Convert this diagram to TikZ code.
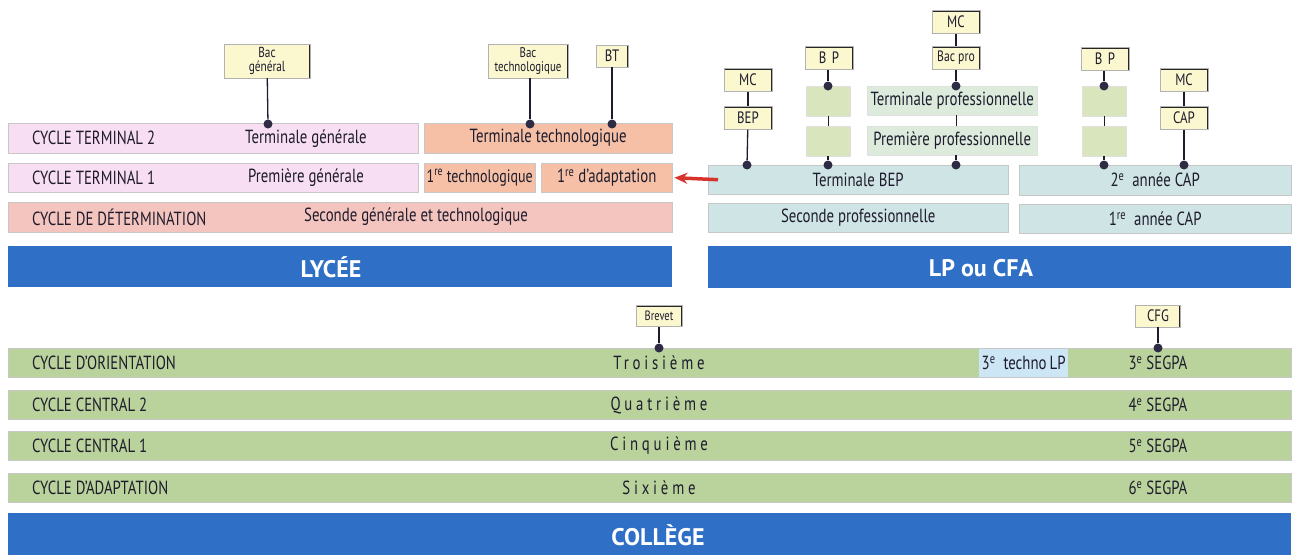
\documentclass[tikz,border=0pt]{standalone}
\usepackage{fontspec}
\setmainfont{PT Sans}[FakeStretch=0.78]
\newfontfamily\bandfont{PT Sans}
\usetikzlibrary{arrows.meta}

\definecolor{ink}{HTML}{1E1C2C}
\definecolor{pinkgen}{HTML}{F8DEF3}
\definecolor{orangetech}{HTML}{F5C0A6}
\definecolor{pinkdet}{HTML}{F4C4BF}
\definecolor{bandblue}{HTML}{2F6FC6}
\definecolor{lpcyan}{HTML}{CFE4E5}
\definecolor{colgreen}{HTML}{BAD39C}
\definecolor{boxgreen}{HTML}{D9E6BD}
\definecolor{progreen}{HTML}{DDEBDD}
\definecolor{diplyellow}{HTML}{FBF7CF}
\definecolor{technoblue}{HTML}{CCE6F5}
\definecolor{dotblue}{HTML}{2E2B45}
\definecolor{arrowred}{HTML}{D8322C}

\begin{document}
\begin{tikzpicture}[x=1pt,y=-1pt,
  bar/.style={draw=black!22,inner sep=0pt,anchor=north west,
    font=\fontsize{19}{21}\selectfont,text=ink},
  band/.style={fill=bandblue,inner sep=0pt,anchor=north west},
  bandtxt/.style={text=white,inner sep=0pt,font=\bandfont\bfseries\fontsize{24}{26}\selectfont},
  txt/.style={font=\fontsize{19}{21}\selectfont,text=ink,inner sep=0pt},
  spaced/.style={font=\addfontfeature{LetterSpace=20}\fontsize{19}{21}\selectfont},
  diplo/.style={fill=diplyellow,draw=black!30,inner sep=1pt,
    minimum width=48pt,minimum height=23pt,align=center,text=ink,
    font=\fontsize{16.5}{16}\selectfont,
    path picture={\draw[black!85,line width=2.4pt]
      (path picture bounding box.north west) -- (path picture bounding box.north east)
      -- (path picture bounding box.south east);}},
  gbox/.style={fill=boxgreen,draw=black!12,minimum width=44pt,minimum height=30pt,inner sep=0pt},
  dot/.style={circle,fill=dotblue,inner sep=0pt,minimum size=9pt},
  link/.style={draw=ink,line width=1.3pt}
]
  \useasboundingbox (0,0) rectangle (1303,557);

  % lycee
  \node[bar,fill=pinkgen,minimum width=410pt,minimum height=30pt] (tgen) at (8,123) {};
  \node[bar,fill=orangetech,minimum width=248pt,minimum height=30pt] (ttech) at (424,123) {Terminale technologique};
  \node[bar,fill=pinkgen,minimum width=410pt,minimum height=29pt] (pgen) at (8,163) {};
  \node[bar,fill=orangetech,minimum width=111pt,minimum height=29pt,font=\fontsize{18}{20}\selectfont] (ptech) at (424,163) {1\textsuperscript{re} technologique};
  \node[bar,fill=orangetech,minimum width=131pt,minimum height=29pt] (adapt) at (541,163) {1\textsuperscript{re} d'adaptation};
  \node[bar,fill=pinkdet,minimum width=664pt,minimum height=30pt] (sgen) at (8,202) {};
  \node[band,minimum width=664pt,minimum height=41pt] (lycee) at (8,246) {};

  \node[txt,anchor=west] at ([xshift=24pt]tgen.west) {CYCLE TERMINAL 2};
  \node[txt] at (306,139) {Terminale générale};
  \node[txt,anchor=west] at ([xshift=24pt]pgen.west) {CYCLE TERMINAL 1};
  \node[txt] at (306,178) {Première générale};
  \node[txt,anchor=west] at ([xshift=24pt]sgen.west) {CYCLE DE DÉTERMINATION};
  \node[txt] at (416,217) {Seconde générale et technologique};
  \node[bandtxt] at (331,267) {LYCÉE};

  \node[diplo,minimum width=86pt,minimum height=34pt,font=\fontsize{14.5}{14}\selectfont] (bacg) at (267,61) {Bac\\général};
  \node[diplo,minimum width=80pt,minimum height=34pt,font=\fontsize{14}{14}\selectfont] (bact) at (528,61) {Bac\\technologique};
  \node[diplo,minimum width=32pt,minimum height=22pt] (bt) at (612,56) {BT};
  \node[dot] (dbacg) at (268,124) {};
  \node[dot] (dbact) at (530,124) {};
  \node[dot] (dbt) at (612,124) {};
  \draw[link] (bacg) -- (dbacg);
  \draw[link] (bact.south -| dbact) -- (dbact);
  \draw[link] (bt) -- (dbt);

  % lp ou cfa
  \node[bar,fill=lpcyan,minimum width=300pt,minimum height=29pt] (tbep) at (708,165) {Terminale BEP};
  \node[bar,fill=lpcyan,minimum width=300pt,minimum height=29pt] (spro) at (708,203) {Seconde professionnelle};
  \node[bar,fill=lpcyan,minimum width=272pt,minimum height=30pt] (cap2) at (1019,165) {2\textsuperscript{e}\ \ année CAP};
  \node[bar,fill=lpcyan,minimum width=272pt,minimum height=29pt] (cap1) at (1019,204) {1\textsuperscript{re}\ \ année CAP};
  \node[band,minimum width=583pt,minimum height=42pt] (lpcfa) at (708,246) {};
  \node[bandtxt] at (981,268) {LP ou CFA};

  \node[diplo] (mca) at (748,80) {MC};
  \node[diplo] (bep) at (748,118) {BEP};
  \node[diplo] (bpa) at (829,58) {B\,\,P};
  \node[gbox] (gba) at (828,101) {};
  \node[gbox] (gbb) at (828,141) {};
  \node[diplo] (mcb) at (956,22) {MC};
  \node[diplo,font=\fontsize{15}{15}\selectfont] (bacpro) at (956,58) {Bac pro};
  \node[bar,fill=progreen,draw=black!12,minimum width=170pt,minimum height=29pt] (tpro) at (867,86) {Terminale professionnelle};
  \node[bar,fill=progreen,draw=black!12,minimum width=170pt,minimum height=29pt] (ppro) at (867,126) {Première professionnelle};
  \node[diplo] (bpb) at (1105,59) {B\,\,P};
  \node[gbox] (gbc) at (1104,101) {};
  \node[gbox] (gbd) at (1104,141) {};
  \node[diplo] (mcc) at (1184,80) {MC};
  \node[diplo] (cap) at (1184,118) {CAP};

  \node[dot] (dbep) at (747,165) {};
  \node[dot] (dgba) at (828,86) {};
  \node[dot] (dgbb) at (828,165) {};
  \node[dot] (dpro) at (956,86) {};
  \node[dot] (dppro) at (956,165) {};
  \node[dot] (dgbc) at (1104,86) {};
  \node[dot] (dgbd) at (1104,165) {};
  \node[dot] (dcap) at (1184,165) {};

  \draw[link] (mca) -- (bep);
  \draw[link] (bep) -- (dbep);
  \draw[link] (bpa.south -| dgba) -- (dgba);
  \draw[link,line width=.8pt] (gba) -- (gbb);
  \draw[link] (gbb) -- (dgbb);
  \draw[link] (mcb) -- (bacpro);
  \draw[link] (bacpro) -- (dpro);
  \draw[link,line width=.8pt] (ppro.north -| dpro) -- (tpro.south -| dpro);
  \draw[link] (ppro.south -| dppro) -- (dppro);
  \draw[link] (bpb.south -| dgbc) -- (dgbc);
  \draw[link,line width=.8pt] (gbc) -- (gbd);
  \draw[link] (gbd) -- (dgbd);
  \draw[link] (mcc) -- (cap);
  \draw[link] (cap) -- (dcap);

  \draw[arrowred,line width=3.5pt,-{Stealth[length=13pt,width=11pt]}]
    ([xshift=10pt]tbep.west) -- ([xshift=2pt]adapt.east);

  % college
  \foreach \yy/\cyc/\cls/\nn in {348/CYCLE D'ORIENTATION/Troisième/3,
      390/CYCLE CENTRAL 2/Quatrième/4, 431/CYCLE CENTRAL 1/Cinquième/5,
      473/CYCLE D'ADAPTATION/Sixième/6} {
    \node[bar,fill=colgreen,minimum width=1283pt,minimum height=29pt] (row\nn) at (8,\yy) {};
    \node[txt,anchor=west] at ([xshift=24pt]row\nn.west) {\cyc};
    \node[txt,spaced] at (659,\yy+15) {\cls};
    \node[txt] at (1158,\yy+15) {\nn\textsuperscript{e}\ SEGPA};
  }
  \node[bar,fill=technoblue,draw=none,minimum width=89pt,minimum height=28pt] (techno) at (979,349) {3\textsuperscript{e}\ \ techno\,LP};
  \node[band,minimum width=1283pt,minimum height=42pt] (college) at (8,513) {};
  \node[bandtxt] at (658,535) {COLLÈGE};

  \node[diplo,minimum width=46pt,minimum height=21pt,font=\fontsize{13.5}{13}\selectfont] (brevet) at (659,316) {Brevet};
  \node[diplo,minimum width=45pt,minimum height=22pt] (cfg) at (1158,316) {CFG};
  \node[dot] (dbrev) at (659,348) {};
  \node[dot] (dcfg) at (1158,348) {};
  \draw[link] (brevet) -- (dbrev);
  \draw[link] (cfg) -- (dcfg);
\end{tikzpicture}
\end{document}
